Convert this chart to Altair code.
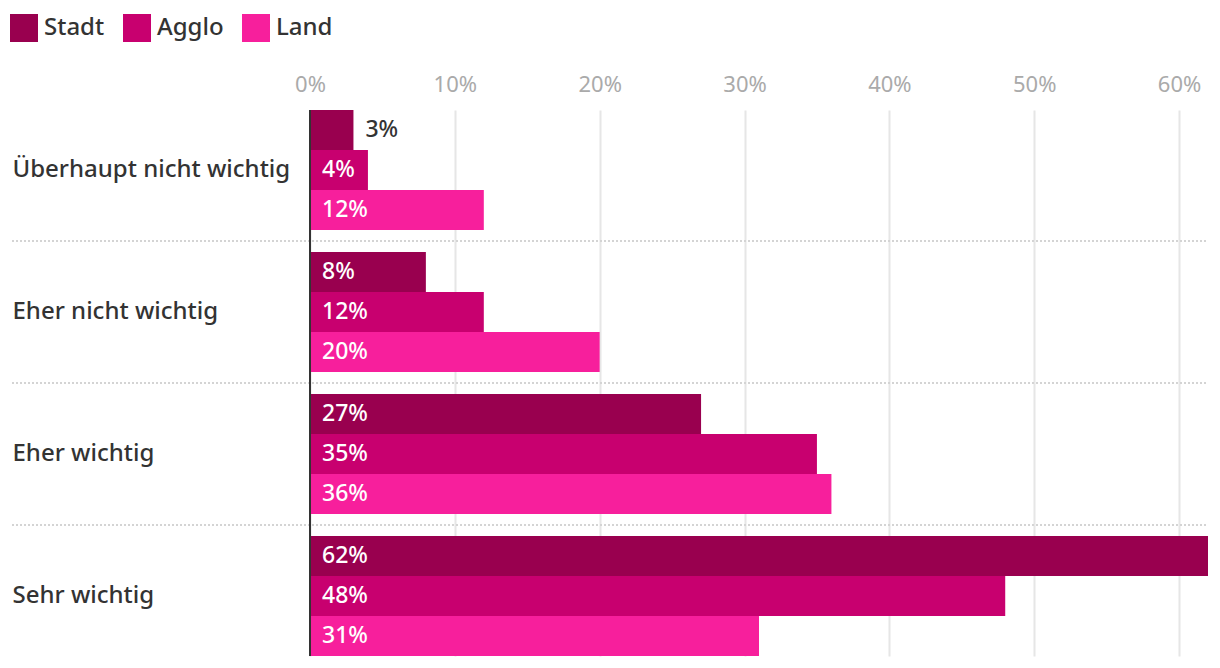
import altair as alt
import pandas as pd

categories = ["Überhaupt nicht wichtig", "Eher nicht wichtig", "Eher wichtig", "Sehr wichtig"]
series = ["Stadt", "Agglo", "Land"]
colors = ["#99004f", "#c8006f", "#f71f9c"]
values = {
    "Stadt": [3, 8, 27, 62],
    "Agglo": [4, 12, 35, 48],
    "Land": [12, 20, 36, 31],
}
x_ticks = [0, 10, 20, 30, 40, 50, 60]
x_max = 62

rows = []
for s in series:
    for c, v in zip(categories, values[s]):
        rows.append({"cat": c, "series": s, "value": v, "label": f"{v}%"})
df = pd.DataFrame(rows)
sep_df = pd.DataFrame({"cat": categories[1:]})

FONT = "Noto Sans"
W, H = 898, 546
FS = 24
WT = 500

yscale = alt.Scale(domain=categories, paddingInner=22 / 142, paddingOuter=0)
yoff = alt.YOffset("series:N", sort=series, scale=alt.Scale(domain=series, paddingInner=0, paddingOuter=0))
xscale = alt.Scale(domain=[0, x_max], nice=False, zero=True)

base = alt.Chart(df)

bars = base.mark_bar(size=40).encode(
    x=alt.X("value:Q", scale=xscale,
            axis=alt.Axis(orient="top", values=x_ticks, labelExpr="datum.value + '%'",
                          title=None, domain=False, ticks=False, labelFontSize=22,
                          labelColor="#aaaaaa", labelPadding=14, labelFont=FONT,
                          labelFlush=False,
                          grid=True, gridColor="#e6e6e6", gridWidth=2)),
    y=alt.Y("cat:N", scale=yscale, sort=categories,
            axis=alt.Axis(title=None, domain=False, ticks=False, labelAlign="left",
                          labelPadding=298, labelFontSize=FS, labelColor="#333333",
                          labelFont=FONT, labelFontWeight=WT, labelLimit=400)),
    yOffset=yoff,
    color=alt.Color("series:N", sort=series, scale=alt.Scale(domain=series, range=colors),
                    legend=alt.Legend(title=None, orient="none", legendX=-300, legendY=-96,
                                      direction="horizontal", symbolType="square",
                                      symbolSize=784, symbolStrokeWidth=0, symbolOpacity=1,
                                      labelFontSize=FS, labelColor="#333333", labelFont=FONT,
                                      labelFontWeight=WT,
                                      columnPadding=18, labelOffset=6)),
)

inside = base.transform_filter("datum.value >= 4").transform_calculate(zero="0").mark_text(
    align="left", baseline="middle", dx=12, color="white", fontSize=23, font=FONT, fontWeight=WT
).encode(
    x=alt.X("zero:Q", scale=xscale),
    y=alt.Y("cat:N", scale=yscale, sort=categories),
    yOffset=yoff,
    text="label:N",
)

outside = base.transform_filter("datum.value < 4").mark_text(
    align="left", baseline="middle", dx=12, color="#333333", fontSize=23, font=FONT, fontWeight=WT
).encode(
    x=alt.X("value:Q", scale=xscale),
    y=alt.Y("cat:N", scale=yscale, sort=categories),
    yOffset=yoff,
    text="label:N",
)

seps = alt.Chart(sep_df).mark_rule(color="#d4d4d4", strokeWidth=2, strokeDash=[2, 2], yOffset=-11).encode(
    y=alt.Y("cat:N", scale=yscale, sort=categories, bandPosition=0),
    x=alt.value(-298),
    x2=alt.value(W),
)

zero_line = alt.Chart(pd.DataFrame({"z": [0]})).mark_rule(color="#333333", strokeWidth=2).encode(
    x=alt.X("z:Q", scale=xscale),
)

chart = alt.layer(seps, bars, zero_line, inside, outside).properties(
    width=W, height=H,
    autosize=alt.AutoSizeParams(type="none"),
    padding={"left": 310, "top": 110, "right": 12, "bottom": 12},
).configure(font=FONT).configure_view(strokeWidth=0, stroke="transparent")

chart.save("out.html", embed_options={"renderer": "svg", "actions": False})
